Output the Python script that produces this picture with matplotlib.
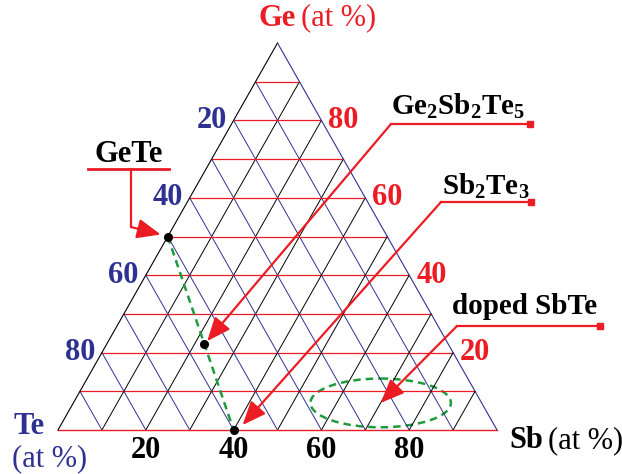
import matplotlib
matplotlib.use("Agg")
import matplotlib.pyplot as plt
from matplotlib.patches import Ellipse
import numpy as np

plt.rcParams['font.family'] = ['Liberation Serif', 'DejaVu Serif']
plt.rcParams['mathtext.fontset'] = 'custom'
plt.rcParams['mathtext.bf'] = 'Liberation Serif:bold'
plt.rcParams['mathtext.rm'] = 'Liberation Serif'

RED = '#ec1c24'
BLUE = '#2e3192'
GREEN = '#1f9a3c'

# grid every 10 at %, labels every 20
grid_levels = [10, 20, 30, 40, 50, 60, 70, 80, 90]
tick_vals = [20, 40, 60, 80]

# compositions (Ge, Sb) in at %, Te = rest
gete = (50.0, 0.0)
gst = (22.2, 22.2)
sb2te3 = (0.0, 40.0)
doped_center = (7.0, 70.0)
doped_size = (32.0, 12.6)   # width along Sb, height along Ge

# triangle placement in pixels
X0, Y0, W, H = 58.0, 430.0, 439.0, 387.0

def tern(ge, sb):
    return X0 + (sb + ge / 2.0) / 100.0 * W, Y0 - ge / 100.0 * H

fig = plt.figure(figsize=(6.22, 4.74), dpi=100)
ax = fig.add_axes([0, 0, 1, 1])
ax.set_xlim(0, 622)
ax.set_ylim(474, 0)
ax.axis('off')

# grid lines
for g in grid_levels:
    # constant Ge (red horizontal)
    p, q = tern(g, 0), tern(g, 100 - g)
    ax.plot([p[0], q[0]], [p[1], q[1]], color=RED, lw=0.9)
    # constant Sb (black)
    p, q = tern(0, g), tern(100 - g, g)
    ax.plot([p[0], q[0]], [p[1], q[1]], color='black', lw=0.7)
    # constant Te (blue)
    p, q = tern(0, 100 - g), tern(100 - g, 0)
    ax.plot([p[0], q[0]], [p[1], q[1]], color=BLUE, lw=0.7)

# edges
te, sb, ge = tern(0, 0), tern(0, 100), tern(100, 0)
ax.plot([te[0], sb[0]], [te[1], sb[1]], color=RED, lw=1.0)
ax.plot([te[0], ge[0]], [te[1], ge[1]], color='black', lw=0.8)
ax.plot([sb[0], ge[0]], [sb[1], ge[1]], color=BLUE, lw=0.8)

FS = 22

# tick labels
for v in tick_vals:
    x, y = tern(100 - v, 0)
    ax.text(x - 7, y, str(v), color=BLUE, fontsize=FS, fontweight='bold',
            ha='right', va='center')
    x, y = tern(v, 100 - v)
    ax.text(x + 7, y, str(v), color=RED, fontsize=FS, fontweight='bold',
            ha='left', va='center')
    x, y = tern(0, v)
    ax.text(x, y + 21, str(v), color='black', fontsize=FS, fontweight='bold',
            ha='center', va='center')

# corner titles
ax.text(296, 18, 'Ge', color=RED, fontsize=FS, fontweight='bold', ha='right', va='center')
ax.text(301, 18, '(at %)', color=RED, fontsize=FS, ha='left', va='center')
ax.text(29, 426, 'Te', color=BLUE, fontsize=FS, fontweight='bold', ha='center', va='center')
ax.text(50, 459, '(at %)', color=BLUE, fontsize=FS, ha='center', va='center')
ax.text(543, 441, 'Sb', color='black', fontsize=FS, fontweight='bold', ha='right', va='center')
ax.text(548, 441, '(at %)', color='black', fontsize=FS, ha='left', va='center')

# tie line GeTe - Sb2Te3
pts = [tern(*gete), tern(*gst), tern(*sb2te3)]
ax.plot([pts[0][0], pts[2][0]], [pts[0][1], pts[2][1]], color=GREEN, lw=1.8,
        ls=(0, (3, 2)))
for p in pts:
    ax.plot(p[0], p[1], 'o', color='black', ms=5.5)

# doped SbTe region
cx, cy = tern(*doped_center)
ax.add_patch(Ellipse((cx, cy), doped_size[0] / 100 * W, doped_size[1] / 100 * H,
                     fill=False, ec=GREEN, lw=1.8, ls=(0, (3, 2))))

arrow = dict(arrowstyle='-|>,head_length=0.6,head_width=0.25', color=RED, lw=1.6,
             mutation_scale=24, shrinkA=0, shrinkB=0)

# GeTe callout
ax.text(129, 155, 'GeTe', fontsize=FS, fontweight='bold', ha='center', va='center')
ax.plot([88, 169], [169, 169], color=RED, lw=2)
ax.plot([131, 131], [169, 227], color=RED, lw=1.6)
ax.annotate('', xy=(pts[0][0] - 7, pts[0][1] - 2), xytext=(131, 227), arrowprops=arrow)

# Ge2Sb2Te5 callout
ax.text(458, 106, r'$\mathbf{Ge_2Sb_2Te_5}$', fontsize=21, ha='center', va='center')
ax.plot([391, 530], [124, 124], color=RED, lw=1.6)
ax.plot(530, 124, 's', color=RED, ms=4)
ax.annotate('', xy=(pts[1][0] + 3, pts[1][1] - 3), xytext=(391, 124), arrowprops=arrow)

# Sb2Te3 callout
ax.text(486, 186, r'$\mathbf{Sb_2Te_3}$', fontsize=21, ha='center', va='center')
ax.plot([441, 531], [202, 202], color=RED, lw=1.6)
ax.plot(531, 202, 's', color=RED, ms=4)
ax.annotate('', xy=(pts[2][0] + 9, pts[2][1] - 5), xytext=(441, 202), arrowprops=arrow)

# doped SbTe callout
ax.text(525, 307, 'doped SbTe', fontsize=21, fontweight='bold', ha='center', va='center')
ax.plot([457, 600], [326, 326], color=RED, lw=1.6)
ax.plot(600, 326, 's', color=RED, ms=4)
ax.annotate('', xy=(cx, cy), xytext=(457, 326), arrowprops=arrow)

fig.savefig('out.png', dpi=100)
